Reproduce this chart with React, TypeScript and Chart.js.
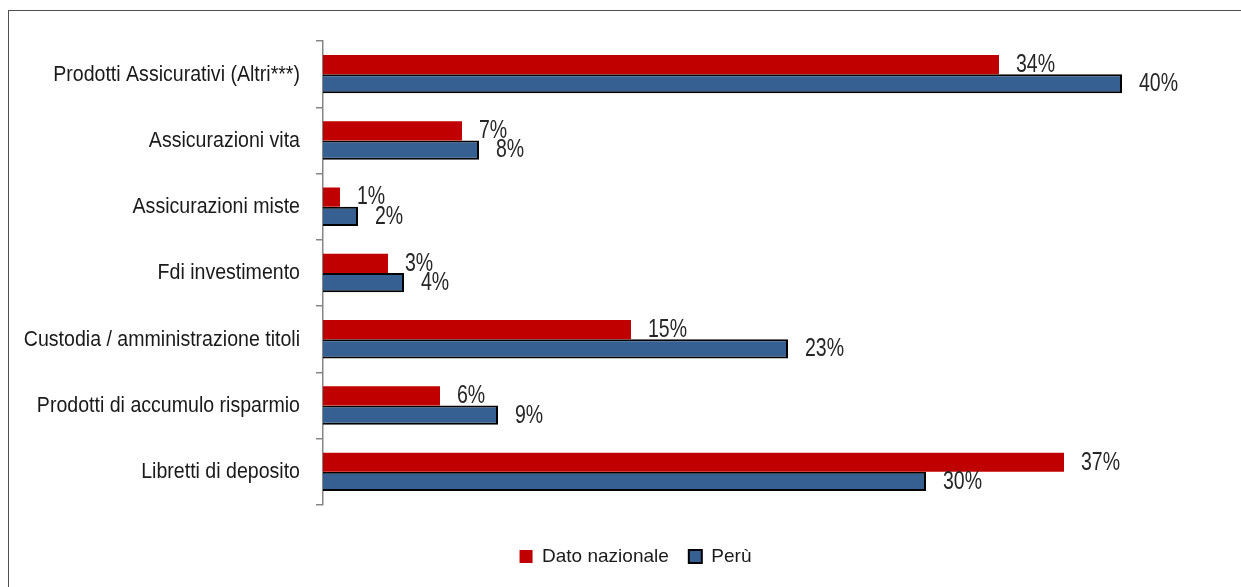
import React, { useEffect, useRef } from "react";
import { Chart, registerables } from "chart.js";

Chart.register(...registerables);

const categories = [
  "Prodotti Assicurativi (Altri***)",
  "Assicurazioni vita",
  "Assicurazioni miste",
  "Fdi investimento",
  "Custodia / amministrazione titoli",
  "Prodotti di accumulo risparmio",
  "Libretti di deposito",
];
const nazionaleValues = [33.8, 6.95, 0.85, 3.25, 15.4, 5.85, 37.05];
const peruValues = [39.95, 7.8, 1.75, 4.05, 23.25, 8.75, 30.15];
const seriesNames = ["Dato nazionale", "Perù"];

const FONT = "'Liberation Sans', Arial, sans-serif";

// value labels drawn with a slightly condensed face, next to each bar
const valueLabels = {
  id: "valueLabels",
  afterDatasetsDraw(chart: any) {
    const ctx = chart.ctx;
    chart.data.datasets.forEach((ds: any, di: number) => {
      const meta = chart.getDatasetMeta(di);
      meta.data.forEach((el: any, i: number) => {
        const v = ds.data[i];
        ctx.save();
        ctx.font = `25px ${FONT}`;
        ctx.fillStyle = "#262626";
        ctx.textAlign = "left";
        ctx.textBaseline = "middle";
        ctx.translate(el.x + 17, el.y + 0.5);
        ctx.scale(0.78, 1);
        ctx.fillText(`${Math.round(v)}%`, 0, 0);
        ctx.restore();
      });
    });
  },
};

// category labels, positioned by the y scale, drawn slightly condensed
const categoryLabels = {
  id: "categoryLabels",
  afterDraw(chart: any) {
    const ctx = chart.ctx;
    const scale = chart.scales.y;
    const right = chart.chartArea.left - 23;
    scale.ticks.forEach((t: any, i: number) => {
      const y = scale.getPixelForTick(i);
      const label = chart.data.labels[t.value ?? i];
      ctx.save();
      ctx.font = `21.5px ${FONT}`;
      ctx.fillStyle = "#1a1a1a";
      ctx.textAlign = "right";
      ctx.textBaseline = "middle";
      ctx.translate(right, y + 0.5);
      ctx.scale(0.91, 1);
      ctx.fillText(label, 0, 0);
      ctx.restore();
    });
  },
};

export default function App() {
  const ref = useRef<HTMLCanvasElement>(null);
  useEffect(() => {
    if (!ref.current) return;
    const chart = new Chart(ref.current, {
      type: "bar",
      data: {
        labels: categories,
        datasets: [
          {
            label: seriesNames[0],
            data: nazionaleValues,
            backgroundColor: "#C00000",
            borderColor: "#C00000",
            borderWidth: 0,
            categoryPercentage: 0.58,
            barPercentage: 1,
          },
          {
            label: seriesNames[1],
            data: peruValues,
            backgroundColor: "#376092",
            borderColor: "#000000",
            borderWidth: 2,
            categoryPercentage: 0.58,
            barPercentage: 1,
          },
        ],
      },
      options: {
        indexAxis: "y",
        animation: false,
        responsive: false,
        maintainAspectRatio: false,
        layout: { padding: { top: 41, left: 48, right: 18, bottom: 11 } },
        plugins: {
          tooltip: { enabled: false },
          legend: {
            position: "bottom",
            labels: {
              boxWidth: 13,
              boxHeight: 13,
              padding: 20,
              color: "#1a1a1a",
              font: { family: FONT, size: 19 },
            },
          },
        },
        scales: {
          x: {
            min: 0,
            max: 45,
            grid: { display: false },
            border: { display: false },
            ticks: { display: false },
            afterFit: (s: any) => {
              s.height = 22;
            },
          },
          y: {
            grid: {
              drawOnChartArea: false,
              tickLength: 7,
              color: "#868686",
              lineWidth: 1.5,
            },
            border: { display: true, color: "#868686", width: 1.5 },
            ticks: { display: false },
            afterFit: (s: any) => {
              s.width = 275;
            },
          },
        },
      },
      plugins: [valueLabels, categoryLabels],
    } as any);
    return () => chart.destroy();
  }, []);
  return (
    <div style={{ position: "fixed", left: 0, top: 0, width: 1241, height: 587, overflow: "hidden", background: "#fff" }}>
      <div style={{ position: "absolute", left: 8, top: 10, width: 1300, height: 700, border: "1.5px solid #505050" }} />
      <canvas ref={ref} width={1241} height={587} style={{ position: "absolute", left: 0, top: 0, width: 1241, height: 587 }} />
    </div>
  );
}
